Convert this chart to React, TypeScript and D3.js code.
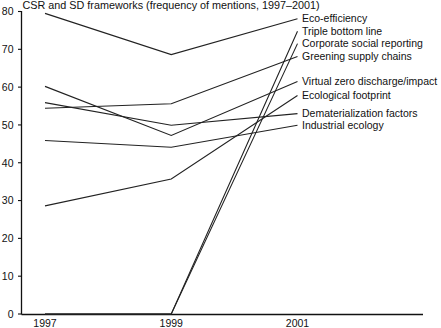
import React from "react";
import * as d3 from "d3";

const title = "CSR and SD frameworks (frequency of mentions, 1997\u20132001)";
const years = [1997, 1999, 2001];
const yTicks = [0, 10, 20, 30, 40, 50, 60, 70, 80];

const seriesNames = [
  "Eco-efficiency",
  "Triple bottom line",
  "Corporate social reporting",
  "Greening supply chains",
  "Virtual zero discharge/impact",
  "Ecological footprint",
  "Dematerialization factors",
  "Industrial ecology",
];
const ecoEfficiency = [79.5, 68.6, 78.1];
const tripleBottomLine = [0, 0, 74.8];
const corporateSocialReporting = [0, 0, 71.5];
const greeningSupplyChains = [54.4, 55.6, 68.1];
const virtualZero = [60.2, 47.2, 61.5];
const ecologicalFootprint = [28.6, 35.7, 57.8];
const dematerialization = [55.9, 49.9, 53.0];
const industrialEcology = [45.9, 44.1, 49.9];
const seriesValues = [
  ecoEfficiency,
  tripleBottomLine,
  corporateSocialReporting,
  greeningSupplyChains,
  virtualZero,
  ecologicalFootprint,
  dematerialization,
  industrialEcology,
];

const W = 441;
const H = 328;
const axisX = 21.5;
const axisY = 314.5;
const axisRight = 423;
const FONT = "'Liberation Sans', Arial, Helvetica, sans-serif";

export default function App() {
  const x = d3.scaleLinear().domain([1997, 2001]).range([45, 297.5]);
  const y = d3.scaleLinear().domain([0, 80]).range([314, 11.5]);
  const line = d3
    .line<number>()
    .x((_, i) => x(years[i]))
    .y((d) => y(d));

  return (
    <div style={{ position: "fixed", left: 0, top: 0 }}>
      <svg width={W} height={H} style={{ display: "block", background: "#fff" }}>
        <text x={22.5} y={9} fontFamily={FONT} fontSize={10.8} fill="#111">
          {title}
        </text>
        {/* y axis */}
        <line x1={axisX} x2={axisX} y1={y(80) - 0.5} y2={axisY} stroke="#111" strokeWidth={1.3} />
        {yTicks.map((t) => (
          <g key={t}>
            <line x1={axisX - 3.5} x2={axisX} y1={y(t)} y2={y(t)} stroke="#111" strokeWidth={1.1} />
            <text
              x={axisX - 8}
              y={y(t)}
              dy="0.36em"
              textAnchor="end"
              fontFamily={FONT}
              fontSize={10.5}
              fill="#111"
            >
              {t}
            </text>
          </g>
        ))}
        {/* x axis */}
        <line x1={axisX} x2={axisRight} y1={axisY} y2={axisY} stroke="#111" strokeWidth={1.3} />
        {years.map((yr) => (
          <text
            key={yr}
            x={x(yr)}
            y={327}
            textAnchor="middle"
            fontFamily={FONT}
            fontSize={10.5}
            fill="#111"
          >
            {yr}
          </text>
        ))}
        {seriesValues.map((vals, i) => (
          <path key={i} d={line(vals) || ""} fill="none" stroke="#222" strokeWidth={1.1} />
        ))}
        {seriesValues.map((vals, i) => (
          <text
            key={seriesNames[i]}
            x={x(2001) + 4.5}
            y={y(vals[2])}
            dy="0.35em"
            fontFamily={FONT}
            fontSize={10.5}
            fill="#111"
          >
            {seriesNames[i]}
          </text>
        ))}
      </svg>
    </div>
  );
}
